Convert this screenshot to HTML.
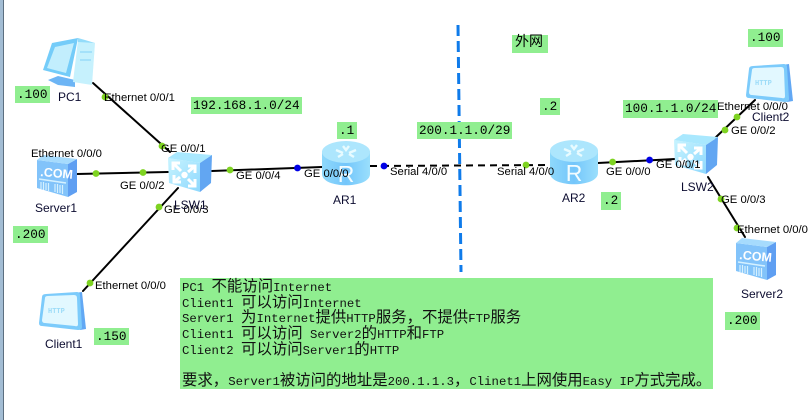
<!DOCTYPE html>
<html><head><meta charset="utf-8">
<style>
html,body{margin:0;padding:0;background:#fff}
#p{position:relative;width:808px;height:420px;overflow:hidden;background:#fff}
svg{position:absolute;left:0;top:0}
.g{position:absolute;background:#90ee90;font:12.7px/17px "Liberation Mono","Noto Sans CJK SC",monospace;color:#000;white-space:pre;padding-left:2px;box-sizing:border-box}
.l{position:absolute;left:2px;white-space:pre;font:12.3px/16px "Liberation Mono",monospace;color:#111}
.c{font:15.4px/16px "Noto Sans CJK SC",sans-serif}
text{font-family:"Liberation Sans",sans-serif;font-size:11.3px;fill:#000}
text.d{font-size:12px;fill:#0c0c30}
</style></head><body><div id="p">
<svg width="808" height="420" viewBox="0 0 808 420">
<defs>
<linearGradient id="a" x1="0" y1="0" x2="1" y2="0"><stop offset="0" stop-color="#8ed8fb"/><stop offset=".5" stop-color="#74c6fb"/><stop offset="1" stop-color="#9adffc"/></linearGradient>
<linearGradient id="b" x1="0" y1="0" x2="1" y2="1"><stop offset="0" stop-color="#c8f4ff"/><stop offset="1" stop-color="#8ed8fd"/></linearGradient>
<g id="sw"><path d="M0 6 L32 11 L32 40 L1 31 Z" fill="url(#b)"/><path d="M0 6 L9 0 L44 3 L32 11 Z" fill="#a9e8fe"/><path d="M32 11 L44 3 L43 31 L32 40 Z" fill="#62a6f2"/>
<g stroke="#fff" stroke-width="3" fill="none"><path d="M6 12 L13 19M5 18 V11 H12"/><path d="M27 14 L20 20M27 21 V14 H20" /><path d="M6 30 L12 25M6 23 V30 H13"/><path d="M27 34 L20 27M27 27 V34 H20"/></g><circle cx="16.5" cy="23" r="3.2" fill="#fff"/></g>
<g id="rt"><path d="M0 10 V33 C0 48 48 48 48 33 V10 Z" fill="url(#a)"/><ellipse cx="24" cy="11" rx="24" ry="11" fill="#ade6fd"/>
<g stroke="#e8fbff" stroke-width="2.4" fill="none"><path d="M14 9 L21 12M34 9 L27 12M16 16 L21 13M32 16 L27 13M21 5 L24 9 L27 5"/></g>
<text x="24" y="41" text-anchor="middle" style="font-size:23px;fill:#f2fcff;font-family:'Liberation Sans',sans-serif">R</text></g>
<g id="sv"><path d="M0 5 L31 9 L31 42 L0 33 Z" fill="#82c3fa"/><path d="M31 9 L40 4 L40 37 L31 42 Z" fill="#5f9ff2"/><path d="M0 5 L6 0 L40 4 L31 9Z" fill="#a6dbfd"/>
<text x="3" y="21" style="font-size:12.5px;font-weight:bold;fill:#fff" transform="rotate(5 3 21)">.COM</text>
<path d="M2 24 L29 28" stroke="#d5f1ff" stroke-width="1.5"/>
<path d="M4 27V34M6.5 27V35M9 28V35M11.5 28V36M18 29V37M20.5 29V38M23 30V38M25.5 30V39" stroke="#d5f1ff" stroke-width="1.2"/></g>
<g id="cl"><path d="M36 1 L43 0 L47 37 L41 38 Z" fill="#62a8f4"/><path d="M3 5 Q3 2 7 2 L38 0 Q41 0 41 3 L43 35 Q43 38 39 38 L3 34 Q0 34 0 31 Z" fill="#7ccbfb"/><path d="M6 6 Q6 4 9 4 L35 3 Q38 3 38 6 L39 32 Q39 35 36 34 L6 31 Q3 31 3 28 Z" fill="#e2f8ff"/>
<text x="9" y="21" style="font:bold 7px 'Liberation Mono',monospace;fill:#9ddcf8">HTTP</text></g>
</defs>
<rect x="0" y="0" width="3.5" height="420" fill="#a3bdd4"/>
<rect x="3" y="0" width="1" height="420" fill="#5c6f80"/>
<path d="M458 25 L461 272" stroke="#0f7bea" stroke-width="3" stroke-dasharray="11 5" fill="none"/>
<g stroke="#000" stroke-width="2" fill="none" stroke-linecap="round">
<path d="M93 83 L170 152"/>
<path d="M77 174 L168 172"/>
<path d="M212 171 L322 167"/>
<path d="M178 188 L83 291"/>
<path d="M370 166 L550 165" stroke-dasharray="7 5" stroke-linecap="butt"/>
<path d="M598 163 L675 159"/>
<path d="M715 138 L755 100"/>
<path d="M708 177 L745 237"/>
</g>
<g fill="#7ed321">
<circle cx="105" cy="97" r="3.4"/><circle cx="162" cy="146" r="3.4"/><circle cx="96" cy="173.5" r="3.4"/><circle cx="143" cy="172.5" r="3.4"/>
<circle cx="230" cy="170" r="3.4"/><circle cx="159" cy="207" r="3.4"/><circle cx="90" cy="283" r="3.4"/><circle cx="526" cy="165" r="3.4"/>
<circle cx="612.6" cy="162" r="3.4"/><circle cx="725" cy="130" r="3.4"/><circle cx="737" cy="117" r="3.4"/><circle cx="721" cy="199" r="3.4"/><circle cx="737" cy="228" r="3.4"/>
</g>
<g fill="#0000e6"><circle cx="297.5" cy="168" r="3.4"/><circle cx="384" cy="166" r="3.4"/><circle cx="649.6" cy="160" r="3.4"/></g>
<!-- PC1 -->
<g>
<path d="M48 80 L58 76 L75 80 L75 87 L58 85 Z" fill="#6db5f5"/>
<path d="M78 40 L95 43 L92 85 L73 82 Z" fill="#c6f1fd"/><path d="M78 38 L85 40 L95 43 L78 42 Z" fill="#93dcfa"/>
<path d="M52 43 L78 38 L70 77 L43 70 Z" fill="#74ccf9"/><path d="M55 47 L74 43 L66 73 L47 68 Z" fill="#c2eefd"/>
<path d="M80 52 H92M80 60 H91" stroke="#8fd8f8" stroke-width="1.2"/>
</g>
<use href="#sv" x="37" y="155"/>
<use href="#sw" x="168" y="152"/>
<use href="#rt" x="322" y="141"/>
<use href="#cl" x="39" y="292"/>
<use href="#rt" x="550" y="140"/>
<use href="#sw" x="674" y="134"/>
<use href="#cl" x="746" y="64"/>
<use href="#sv" x="736" y="238"/>
<g>
<text x="104" y="101">Ethernet 0/0/1</text><text x="161" y="152">GE 0/0/1</text><text x="31" y="157">Ethernet 0/0/0</text>
<text x="120" y="189">GE 0/0/2</text><text x="236" y="179">GE 0/0/4</text><text x="164" y="213">GE 0/0/3</text>
<text x="95" y="289">Ethernet 0/0/0</text><text x="304" y="177">GE 0/0/0</text><text x="390" y="175">Serial 4/0/0</text>
<text x="497" y="175">Serial 4/0/0</text><text x="606" y="175">GE 0/0/0</text><text x="656" y="168">GE 0/0/1</text>
<text x="731" y="134">GE 0/0/2</text><text x="717" y="110">Ethernet 0/0/0</text><text x="721" y="203">GE 0/0/3</text><text x="737" y="233">Ethernet 0/0/0</text>
<text class="d" x="58" y="101">PC1</text><text class="d" x="35" y="212">Server1</text><text class="d" x="174" y="209">LSW1</text>
<text class="d" x="45" y="348">Client1</text><text class="d" x="333" y="204">AR1</text><text class="d" x="562" y="202">AR2</text>
<text class="d" x="681" y="191">LSW2</text><text class="d" x="752" y="121">Client2</text><text class="d" x="741" y="298">Server2</text>
</g>
</svg>
<div class="g" style="left:15px;top:86px;width:35px;height:17px">.100</div>
<div class="g" style="left:191px;top:97px;width:111px;height:17px">192.168.1.0/24</div>
<div class="g" style="left:13px;top:226px;width:35px;height:17px">.200</div>
<div class="g" style="left:94px;top:328px;width:35px;height:17px">.150</div>
<div class="g" style="left:337px;top:122px;width:20px;height:17px">.1</div>
<div class="g" style="left:417px;top:122px;width:95px;height:17px">200.1.1.0/29</div>
<div class="g" style="left:512px;top:35px;width:36px;height:18px;font-size:14px;padding-left:3px">外网</div>
<div class="g" style="left:540px;top:98px;width:20px;height:17px">.2</div>
<div class="g" style="left:748px;top:29px;width:35px;height:18px">.100</div>
<div class="g" style="left:623px;top:100px;width:95px;height:18px">100.1.1.0/24</div>
<div class="g" style="left:601px;top:192px;width:20px;height:18px">.2</div>
<div class="g" style="left:725px;top:312px;width:35px;height:18px">.200</div>
<div class="g" style="left:180px;top:278px;width:533px;height:111px">
<div class="l" style="top:-1px">PC1 <span class="c">不能访问</span>Internet</div>
<div class="l" style="top:15px">Client1 <span class="c">可以访问</span>Internet</div>
<div class="l" style="top:30px">Server1 <span class="c">为</span>Internet<span class="c">提供</span>HTTP<span class="c">服务，不提供</span>FTP<span class="c">服务</span></div>
<div class="l" style="top:46px">Client1 <span class="c">可以访问</span> Server2<span class="c">的</span>HTTP<span class="c">和</span>FTP</div>
<div class="l" style="top:62px">Client2 <span class="c">可以访问</span>Server1<span class="c">的</span>HTTP</div>
<div class="l" style="top:93px"><span class="c">要求，</span>Server1<span class="c">被访问的地址是</span>200.1.1.3<span class="c">，</span>Clinet1<span class="c">上网使用</span>Easy IP<span class="c">方式完成。</span></div>
</div>
</div></body></html>
